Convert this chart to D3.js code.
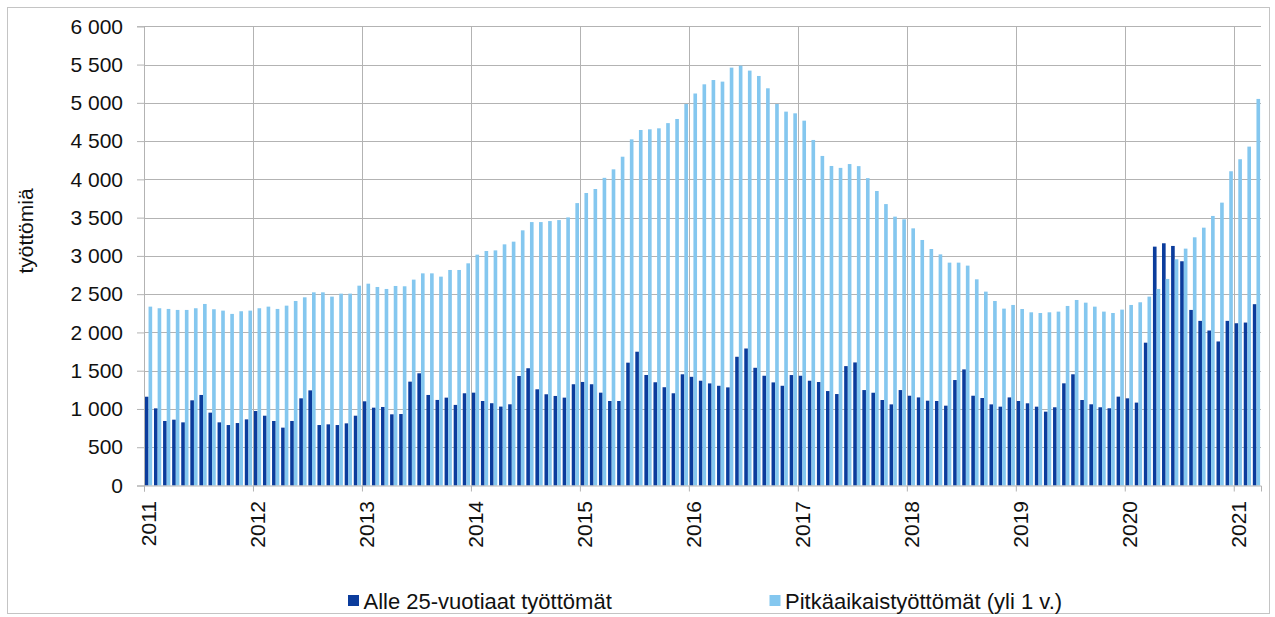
<!DOCTYPE html>
<html>
<head>
<meta charset="utf-8">
<script src="https://cdn.jsdelivr.net/npm/d3@7"></script>
<style>
body { margin: 0; background: #fff; }
svg { display: block; font-family: "Liberation Sans", Arial, sans-serif; }
</style>
</head>
<body>
<div id="chart"></div>
<script>
const width = 1275;
const height = 617;
const margin = { top: 26.3, right: 14, left: 144, bottom: 131.5 };

// x axis labels (one per year, first month of each year)
const yearLabels = ['2011', '2012', '2013', '2014', '2015', '2016', '2017', '2018', '2019', '2020', '2021'];
const yTicks = [0, 500, 1000, 1500, 2000, 2500, 3000, 3500, 4000, 4500, 5000, 5500, 6000];

const seriesNames = ['Alle 25-vuotiaat työttömät', 'Pitkäaikaistyöttömät (yli 1 v.)'];
const seriesColors = ['#0b3c9c', '#84c7ef'];
const yTitle = 'työttömiä';

// monthly values, 1/2011 - 3/2021
const under25 = [
    1160, 1008, 843, 860, 825, 1113, 1183, 952, 825, 790, 816, 864,
    973, 912, 843, 756, 843, 1139, 1243, 790, 799, 790, 812, 912,
    1100, 1017, 1026, 930, 934, 1357, 1466, 1183, 1118, 1148, 1053, 1205,
    1213, 1104, 1075, 1031, 1061, 1431, 1532, 1257, 1192, 1170, 1148, 1323,
    1353, 1323, 1213, 1104, 1104, 1605, 1748, 1444, 1349, 1284, 1205, 1453,
    1420, 1369, 1334, 1303, 1282, 1682, 1790, 1538, 1434, 1347, 1303, 1443,
    1434, 1369, 1352, 1234, 1195, 1560, 1608, 1247, 1212, 1117, 1060, 1247,
    1173, 1151, 1108, 1104, 1043, 1378, 1517, 1173, 1143, 1060, 1030, 1151,
    1104, 1074, 1030, 965, 1022, 1335, 1453, 1117, 1061, 1022, 1009, 1161,
    1139, 1083, 1866, 3121, 3165, 3130, 2930, 2294, 2151, 2025, 1882, 2151,
    2120, 2129, 2369
];

const longTerm = [
    2337, 2316, 2307, 2294, 2294, 2316, 2372, 2303, 2285, 2242, 2277, 2285,
    2316, 2337, 2307, 2350, 2411, 2459, 2524, 2524, 2468, 2507, 2507, 2611,
    2637, 2594, 2568, 2607, 2603, 2690, 2772, 2772, 2729, 2816, 2816, 2903,
    3016, 3064, 3072, 3151, 3186, 3334, 3442, 3442, 3455, 3468, 3503, 3690,
    3822, 3874, 4020, 4131, 4296, 4523, 4645, 4654, 4667, 4735, 4789, 4985,
    5122, 5242, 5298, 5277, 5460, 5486, 5421, 5351, 5190, 4985, 4885, 4863,
    4767, 4515, 4306, 4175, 4150, 4200, 4173, 4016, 3848, 3677, 3513, 3478,
    3360, 3208, 3090, 3020, 2912, 2912, 2873, 2694, 2533, 2411, 2311, 2359,
    2306, 2263, 2254, 2263, 2272, 2346, 2424, 2389, 2337, 2272, 2254, 2298,
    2359, 2394, 2468, 2568, 2699, 2956, 3095, 3243, 3369, 3522, 3696, 4106,
    4263, 4428, 5051
];

const gridColor = '#b3b3b3';
const fmt = d3.formatLocale({ decimal: ',', thousands: ' ', grouping: [3], currency: ['', ''] }).format(',d');

const svg = d3.select('#chart')
    .append('svg')
    .attr('width', width)
    .attr('height', height);

// outer frame
svg.append('rect')
    .attr('x', 7.5).attr('y', 7.5)
    .attr('width', 1262).attr('height', 606)
    .attr('fill', 'none')
    .attr('stroke', '#c4c4c4');

const months = d3.range(under25.length);
const x0 = margin.left;
const x1 = width - margin.right;
const yBottom = height - margin.bottom;

const xLin = d3.scaleLinear().domain([0, months.length]).range([x0, x1]);
const xBand = d3.scaleBand().domain(months).range([x0, x1]).paddingInner(0.2).paddingOuter(0.1);
const xSub = d3.scaleBand().domain([0, 1]).range([0, xBand.bandwidth()]);
const y = d3.scaleLinear().domain([0, 6000]).range([yBottom, margin.top]);

// gridlines
const grid = svg.append('g').attr('stroke', gridColor).attr('stroke-width', 1);
grid.selectAll('line.h')
    .data(yTicks.filter(d => d > 0))
    .join('line')
    .attr('class', 'h')
    .attr('x1', x0).attr('x2', x1)
    .attr('y1', d => Math.round(y(d)) + 0.5)
    .attr('y2', d => Math.round(y(d)) + 0.5);

const yearIdx = yearLabels.map((d, i) => i * 12);
grid.selectAll('line.v')
    .data(yearIdx.slice(1))
    .join('line')
    .attr('class', 'v')
    .attr('x1', d => Math.round(xLin(d)) + 0.5)
    .attr('x2', d => Math.round(xLin(d)) + 0.5)
    .attr('y1', y(6000)).attr('y2', yBottom);

// bars
const series = [under25, longTerm];
series.forEach((values, s) => {
    svg.append('g')
        .attr('fill', seriesColors[s])
        .selectAll('rect')
        .data(values)
        .join('rect')
        .attr('x', (d, i) => xBand(i) + xSub(s))
        .attr('width', xSub.bandwidth())
        .attr('y', d => y(d))
        .attr('height', d => yBottom - y(d));
});

// y axis
const yAxis = svg.append('g')
    .attr('transform', `translate(${x0},0)`)
    .call(d3.axisLeft(y).tickValues(yTicks).tickSize(7).tickPadding(14).tickFormat(fmt));
yAxis.select('.domain').attr('stroke', gridColor);
yAxis.selectAll('line').attr('stroke', gridColor);
yAxis.selectAll('text')
    .attr('fill', '#111')
    .style('font-size', '21px')
    .style('font-family', '"Liberation Sans", Arial, sans-serif');

// x axis
const xAxis = svg.append('g')
    .attr('transform', `translate(0,${yBottom})`)
    .call(d3.axisBottom(xLin).tickValues(yearIdx).tickSize(6).tickFormat((d, i) => yearLabels[i]));
xAxis.select('.domain').attr('stroke', gridColor);
xAxis.selectAll('line').attr('stroke', gridColor);
xAxis.selectAll('text')
    .attr('fill', '#111')
    .attr('transform', 'rotate(-90)')
    .attr('text-anchor', 'end')
    .attr('dy', 0)
    .attr('x', -15.5)
    .attr('y', 11.5)
    .style('font-size', '21px')
    .style('font-family', '"Liberation Sans", Arial, sans-serif');

// y title
svg.append('text')
    .attr('transform', 'translate(33,231) rotate(-90)')
    .attr('text-anchor', 'middle')
    .attr('fill', '#111')
    .style('font-size', '21px')
    .text(yTitle);

// legend
const legendX = [348, 769.5];
const legend = svg.append('g')
    .selectAll('g')
    .data(seriesNames)
    .join('g')
    .attr('transform', (d, i) => `translate(${legendX[i]},595)`);
legend.append('rect')
    .attr('width', 11).attr('height', 11)
    .attr('fill', (d, i) => seriesColors[i]);
legend.append('text')
    .attr('x', 15.5).attr('y', 14)
    .attr('fill', '#111')
    .style('font-size', '22px')
    .text(d => d);
</script>
</body>
</html>
